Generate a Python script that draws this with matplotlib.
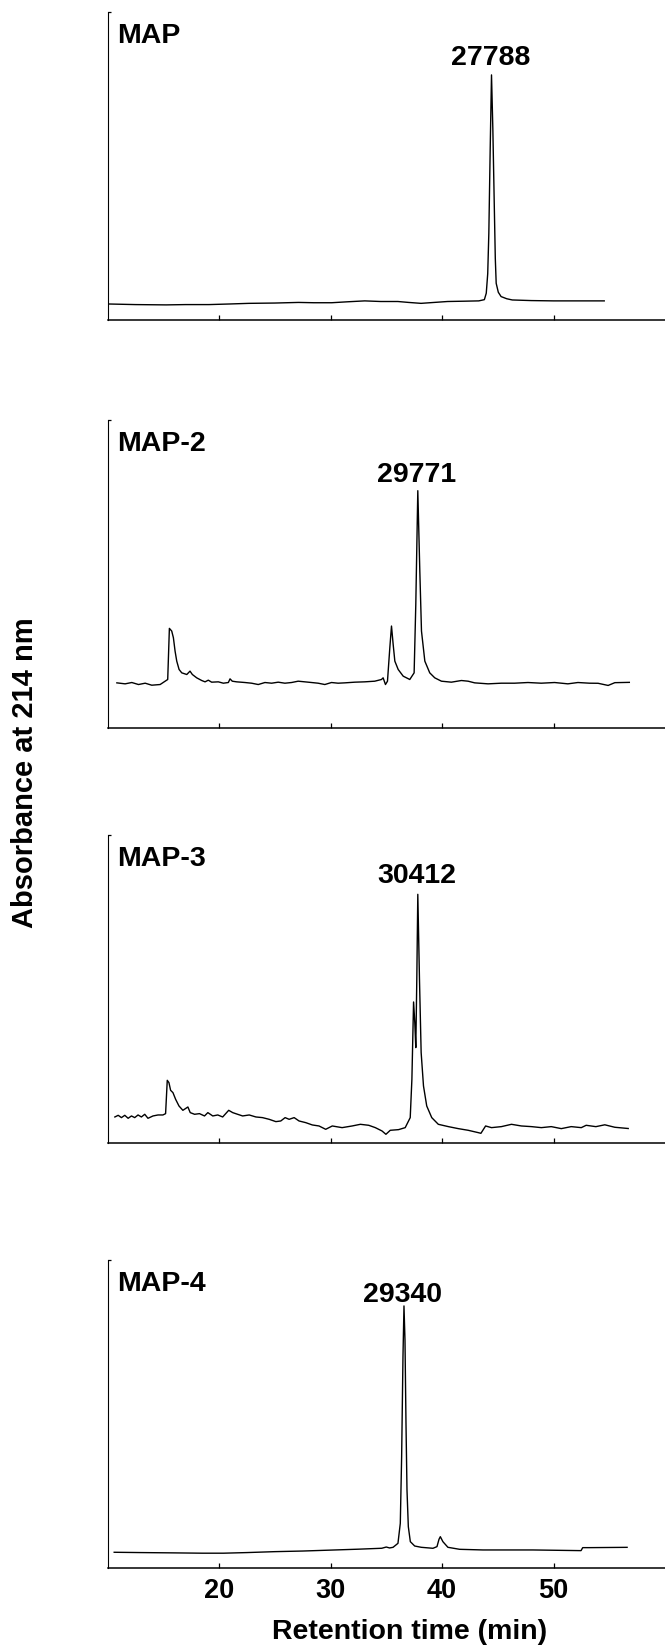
"""
HPLC traces of MAP and its variants (absorbance at 214 nm vs retention time).
Four stacked panels sharing the same time axis.
"""

import matplotlib
matplotlib.use("Agg")
import matplotlib.pyplot as plt
import matplotlib.transforms as mtransforms
import numpy as np

# ---------------------------------------------------------------------------
# Data (retention time in min, absorbance in % of panel height)
# ---------------------------------------------------------------------------
names = ["MAP", "MAP-2", "MAP-3", "MAP-4"]
peak_labels = ["27788", "29771", "30412", "29340"]

t_map = [10.0, 12.5, 15.25, 17.0, 19.1, 21.0, 22.67, 25.0, 27.13, 28.5,
         30.1, 31.5, 33.07, 34.5, 36.04, 37.0, 38.12, 39.3, 40.5, 42.0,
         43.3, 43.8, 43.97, 44.1, 44.2, 44.32, 44.44, 44.56, 44.68, 44.78,
         44.86, 45.05, 45.3, 45.8, 46.3, 48.0, 50.0, 52.0, 54.55]
a_map = [5.2, 5.0, 4.9, 5.0, 5.0, 5.2, 5.4, 5.5, 5.7, 5.6,
         5.6, 5.9, 6.2, 6.0, 6.0, 5.7, 5.4, 5.7, 6.0, 6.1,
         6.2, 6.6, 8.7, 15.0, 28.1, 55.0, 79.5, 62.0, 38.9, 20.0,
         11.9, 9.0, 7.6, 6.9, 6.5, 6.3, 6.2, 6.2, 6.2]

t_map2 = [10.84, 11.58, 12.18, 12.78, 13.38, 13.97, 14.72, 15.17, 15.40, 15.55,
          15.76, 15.91, 16.06, 16.21, 16.42, 16.66, 17.11, 17.40, 17.61, 18.00,
          18.45, 18.75, 19.04, 19.34, 19.94, 20.39, 20.84, 20.99, 21.19, 21.58,
          22.33, 22.92, 23.52, 24.12, 24.72, 25.31, 25.91, 26.51, 27.10, 27.70,
          28.30, 28.89, 29.49, 30.09, 30.68,
          31.28, 32.18, 33.07, 33.97, 34.57, 34.72, 34.93, 35.11, 35.32, 35.47,
          35.62, 35.77, 36.07, 36.52, 37.11, 37.50, 37.65, 37.83, 38.01, 38.16,
          38.46, 38.90, 39.35, 39.95, 40.84, 41.74, 42.34, 42.93, 44.13, 45.32,
          46.51, 47.71, 48.90, 50.10, 51.29, 52.19, 53.23,
          54.0, 54.9, 55.5, 56.8]
a_map2 = [14.74, 14.42, 14.85, 14.20, 14.63, 13.98, 14.20, 15.28, 15.83, 32.41,
          31.54, 29.38, 25.04, 21.79, 19.08, 17.99, 17.45, 18.54, 17.45, 16.37,
          15.50, 15.07, 15.61, 14.96, 15.07, 14.63, 14.85, 16.04, 15.28, 15.07,
          14.85, 14.63, 14.20, 14.85, 14.63, 14.96, 14.63, 14.85, 15.28, 15.07,
          14.85, 14.63, 14.20, 14.85, 14.63,
          14.74, 14.96, 15.07, 15.28, 15.83, 16.37, 14.20, 15.28, 26.12, 33.17,
          27.2, 21.79, 19.08, 16.91, 15.83, 17.99, 40.2, 77.07, 51.06, 31.54,
          21.79, 17.99, 16.37, 15.28, 14.96, 15.50, 15.28, 14.74, 14.42, 14.63,
          14.63, 14.85, 14.63, 14.85, 14.42, 14.85, 14.63,
          14.6, 13.9, 14.8, 14.9]

t_map3 = [10.66, 10.96, 11.25, 11.55, 11.85, 12.15, 12.44, 12.74, 13.04, 13.34,
          13.63, 14.08, 14.53, 14.97, 15.21, 15.36, 15.51, 15.66, 15.87, 16.11,
          16.41, 16.76, 17.21, 17.42, 17.81, 18.25, 18.70, 19.00, 19.44, 19.89,
          20.33, 20.87, 21.23, 21.67, 22.12, 22.71, 23.31, 23.90, 24.50, 25.10,
          25.54, 25.93, 26.29, 26.74, 27.18, 27.78, 28.37, 28.97, 29.57, 30.16,
          31.04, 31.94, 32.68, 33.43, 34.02, 34.62, 34.97, 35.36, 36.10, 36.70,
          37.15, 37.30, 37.45, 37.56, 37.65, 37.74, 37.83, 37.98, 38.13, 38.34,
          38.63, 39.08, 39.67, 40.57, 41.46, 42.35, 43.25, 43.49, 43.91, 44.44,
          45.33, 46.23, 47.12, 48.02, 48.91, 49.80, 50.70, 51.59, 52.49, 52.93,
          53.8, 54.6, 55.5, 56.7]
a_map3 = [8.54, 9.08, 8.33, 9.08, 8.11, 8.87, 8.33, 9.19, 8.54, 9.41,
          8.11, 8.87, 9.19, 9.19, 9.62, 20.43, 19.68, 17.19, 16.43, 14.27,
          12.11, 10.70, 11.78, 9.95, 9.41, 9.62, 8.87, 9.95, 8.87, 9.19,
          8.54, 10.70, 9.95, 9.41, 8.87, 9.19, 8.54, 8.33, 7.78, 7.03,
          7.24, 8.33, 7.78, 8.33, 7.24, 6.70, 5.95, 5.62, 4.54, 5.62,
          5.08, 5.62, 6.16, 5.84, 5.08, 4.0, 2.92, 4.22, 4.43, 5.08,
          8.33, 20.76, 45.84, 39.14, 31.03, 53.19, 80.76, 53.19, 29.41, 18.60,
          12.11, 8.33, 6.16, 5.41, 4.76, 4.22, 3.46, 3.24, 5.62, 5.08,
          5.41, 6.16, 5.62, 5.41, 5.08, 5.41, 4.76, 5.41, 5.08, 5.84,
          5.4, 6.0, 5.2, 4.8]

t_map4 = [10.6, 13.0, 16.0, 18.5, 20.4, 22.5, 25.0, 27.5, 30.0, 32.5,
          34.6, 35.0, 35.3, 35.61, 36.05, 36.26, 36.38, 36.50, 36.59, 36.68,
          36.77, 36.86, 36.98, 37.16, 37.55, 38.14, 39.19, 39.55, 39.73, 39.85,
          40.08, 40.53, 41.58, 43.67, 48.14, 52.47, 52.62, 53.21, 56.6]
a_map4 = [5.2, 5.1, 5.0, 4.9, 4.9, 5.1, 5.4, 5.6, 5.9, 6.2,
          6.5, 6.9, 6.6, 6.81, 8.10, 14.59, 36.21, 68.64, 85.1, 74.05,
          47.02, 25.40, 13.50, 8.64, 7.23, 6.81, 6.49, 7.03, 9.40, 10.26,
          8.64, 6.81, 6.16, 5.95, 5.95, 5.73, 6.70, 6.70, 6.8]

times = [t_map, t_map2, t_map3, t_map4]
absorb = [a_map, a_map2, a_map3, a_map4]

xticks = [20, 30, 40, 50]

# ---------------------------------------------------------------------------
# Layout (pixel geometry of the original figure)
# ---------------------------------------------------------------------------
W, H = 665, 1652
LEFT_PX = 107.5
PANEL_TOPS = [11.7, 420, 835, 1260]
PANEL_H = 308.3
LABEL_Y = [0.827, 0.799, 0.843, 0.865]   # baseline of peak labels (axes frac)

plt.rcParams.update({
    "font.family": ["Liberation Sans", "DejaVu Sans"],
    "font.weight": "bold",
    "axes.spines.top": False,
    "axes.spines.right": False,
})

fig = plt.figure(figsize=(W / 100, H / 100), dpi=100)
fig.patch.set_facecolor("white")

for i, (t, a) in enumerate(zip(times, absorb)):
    top = PANEL_TOPS[i]
    ax = fig.add_axes([LEFT_PX / W, 1 - (top + PANEL_H) / H,
                       (W - LEFT_PX) / W, PANEL_H / H])
    ax.plot(t, a, color="black", linewidth=1.0)
    ax.set_xlim(10, 60)
    ax.set_ylim(0, 100)

    ax.spines["left"].set_linewidth(0.8)
    ax.spines["bottom"].set_linewidth(1.1)

    ax.set_xticks(xticks)
    ax.tick_params(axis="x", direction="in", length=3.8, width=0.9,
                   labelsize=19.5, pad=7, labelbottom=(i == 3))
    ax.set_yticks([100])
    ax.tick_params(axis="y", direction="in", length=2.5, width=0.9,
                   labelleft=False)

    # Sample name
    ax.text(0.018, 0.90, names[i], transform=ax.transAxes,
            ha="left", va="baseline", fontsize=20.5, fontweight="bold")

    # Mass label above the main peak
    k = int(np.argmax(a))
    trans = mtransforms.blended_transform_factory(ax.transData, ax.transAxes)
    ax.text(t[k] - 0.1, LABEL_Y[i], peak_labels[i], transform=trans,
            ha="center", va="baseline", fontsize=20.5, fontweight="bold")

fig.text(25 / W, 1 - 773 / H, "Absorbance at 214 nm", rotation=90,
         ha="center", va="center", fontsize=21, fontweight="bold")
fig.text(410 / W, 1 - 1631.7 / H, "Retention time (min)",
         ha="center", va="center", fontsize=20.5, fontweight="bold")

fig.savefig("out.png", dpi=100)
plt.close(fig)
